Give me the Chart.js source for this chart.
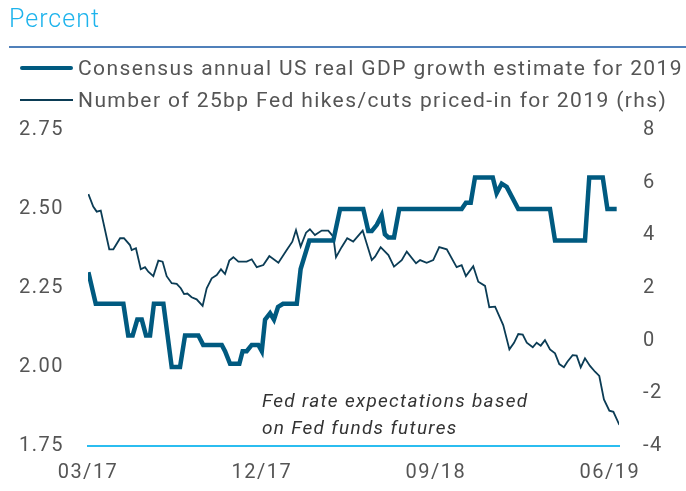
<!DOCTYPE html>
<html>
<head>
<meta charset="utf-8">
<script src="https://cdn.jsdelivr.net/npm/chart.js@4.4.1/dist/chart.umd.min.js"></script>
<style>
  body { margin: 0; background: #fff; }
  #wrap { position: relative; width: 686px; height: 491px; font-family: Roboto, "Open Sans", sans-serif; }
  canvas { position: absolute; left: 0; top: 0; }
  .txt { position: absolute; white-space: nowrap; }
  #unit { left: 9px; top: 4px; font-size: 25px; letter-spacing: 1px; color: #1db3ec; font-weight: 300; line-height: 30px; }
  #rule { position: absolute; left: 9px; top: 46px; width: 677px; height: 2px; background: #5080ba; }
  .leg { left: 78px; font-size: 21px; letter-spacing: 1.4px; color: #555; line-height: 24px; }
  .legline { position: absolute; left: 20px; width: 53px; }
  #note { left: 262px; top: 387px; font-size: 19px; letter-spacing: 1.3px; font-style: italic; color: #333; line-height: 27px; }
</style>
</head>
<body>
<div id="wrap">
  <canvas id="myChart" width="686" height="491"></canvas>
  <div class="txt" id="unit">Percent</div>
  <div id="rule"></div>
  <div class="legline" style="top:66px;height:4px;background:#005a80;border-radius:2px"></div>
  <div class="txt leg" id="leg1" style="top:56px"></div>
  <div class="legline" style="top:99px;height:2px;background:#0b3c55"></div>
  <div class="txt leg" id="leg2" style="top:88px"></div>
  <div class="txt" id="note">Fed rate expectations based<br>on Fed funds futures</div>
</div>
<script>
// months since March 2017
var gdpMonths = [0.02, 0.40, 1.83, 2.08, 2.31, 2.55, 2.78, 3.00, 3.21, 3.41, 3.90, 4.33, 4.76, 5.02, 5.71, 5.96,
    6.92, 7.09, 7.35, 7.83, 8.00, 8.21, 8.47, 8.81, 8.99, 9.16, 9.42, 9.62, 9.83, 10.09, 10.80, 11.00, 11.45,
    12.69, 13.04, 14.24, 14.50, 14.68, 14.94, 15.19, 15.36, 15.54, 15.83, 16.10, 19.33, 19.55, 19.80, 20.02,
    20.94, 21.14, 21.40, 21.66, 22.26, 23.90, 24.16, 25.71, 25.93, 26.63, 26.87, 27.35];
var gdpValues = [2.30, 2.20, 2.20, 2.10, 2.10, 2.15, 2.15, 2.10, 2.10, 2.20, 2.20, 2.00, 2.00, 2.10, 2.10, 2.07,
    2.07, 2.05, 2.01, 2.01, 2.05, 2.05, 2.07, 2.07, 2.05, 2.15, 2.17, 2.15, 2.19, 2.20, 2.20, 2.31, 2.40,
    2.40, 2.50, 2.50, 2.43, 2.43, 2.45, 2.48, 2.42, 2.41, 2.41, 2.50, 2.50, 2.52, 2.52, 2.60,
    2.60, 2.55, 2.58, 2.57, 2.50, 2.50, 2.40, 2.40, 2.60, 2.60, 2.50, 2.50];

var fedMonths = [0.02, 0.27, 0.45, 0.66, 1.10, 1.31, 1.66, 1.86, 2.17, 2.26, 2.48, 2.73, 2.95, 3.12, 3.38, 3.64,
    3.86, 4.07, 4.33, 4.59, 4.80, 4.97, 5.14, 5.36, 5.62, 5.93, 6.14, 6.40, 6.66, 6.88, 7.09, 7.31, 7.52, 7.78,
    8.21, 8.47, 8.73, 9.07, 9.38, 9.85, 10.28, 10.57, 10.76, 11.00, 11.28, 11.48, 11.74, 12.09, 12.43, 12.69,
    12.83, 13.12, 13.41, 13.72, 14.21, 14.68, 14.85, 15.14, 15.54, 15.83, 16.23, 16.49, 16.97, 17.18, 17.52,
    17.86, 18.17, 18.56, 19.07, 19.33, 19.55, 19.93, 20.19, 20.54, 20.76, 21.06, 21.48, 21.80, 22.04, 22.26,
    22.49, 22.70, 23.01, 23.21, 23.42, 23.64, 23.90, 24.16, 24.38, 24.62, 24.80, 25.07, 25.28, 25.49, 25.71,
    25.97, 26.23, 26.45, 26.69, 26.97, 27.18, 27.49];
var fedValues = [5.57, 5.09, 4.90, 4.94, 3.47, 3.47, 3.89, 3.89, 3.63, 3.44, 3.51, 2.71, 2.79, 2.62, 2.45, 3.04,
    3.00, 2.45, 2.18, 2.16, 1.99, 1.77, 1.79, 1.65, 1.57, 1.32, 1.99, 2.37, 2.49, 2.71, 2.53, 3.04, 3.17, 3.00,
    3.00, 3.09, 2.79, 2.87, 3.21, 2.96, 3.44, 3.76, 4.20, 3.57, 4.10, 4.23, 4.01, 4.18, 4.18, 3.95,
    3.17, 3.55, 3.89, 3.76, 4.18, 3.06, 3.19, 3.55, 3.25, 2.81, 3.06, 3.38, 2.94, 3.06, 2.96,
    3.06, 3.55, 3.47, 2.79, 2.87, 2.45, 2.83, 2.24, 2.08, 1.27, 1.29, 0.59, -0.33, -0.08, 0.25,
    0.23, -0.08, -0.25, -0.08, -0.19, 0.02, -0.33, -0.48, -0.89, -1.01, -0.80, -0.55, -0.57, -1.01, -0.67,
    -0.96, -1.18, -1.34, -2.23, -2.66, -2.70, -3.20];

var xTickPos = [0, 9, 18, 27];
var xTickLabels = ['03/17', '12/17', '09/18', '06/19'];
var seriesNames = ['Consensus annual US real GDP growth estimate for 2019',
    'Number of 25bp Fed hikes/cuts priced-in for 2019 (rhs)'];

window.onload = main;

function main() {
    document.getElementById('leg1').textContent = seriesNames[0];
    document.getElementById('leg2').textContent = seriesNames[1];

    var gdp = gdpMonths.map(function (m, i) { return { x: m, y: gdpValues[i] }; });
    var fed = fedMonths.map(function (m, i) { return { x: m, y: fedValues[i] }; });

    // the reference type is wide and light, so space the canvas labels out a little
    var spacing = {
        id: 'spacing',
        beforeDraw: function (chart) { chart.ctx.letterSpacing = '1.5px'; }
    };

    var tickFont = { family: 'Roboto', size: 20 };
    var ctx = document.getElementById('myChart').getContext('2d');
    new Chart(ctx, {
        type: 'line',
        data: {
            datasets: [{
                label: seriesNames[0],
                data: gdp,
                borderColor: '#005a80',
                borderWidth: 4.5,
                pointRadius: 0,
                tension: 0,
                yAxisID: 'y'
            }, {
                label: seriesNames[1],
                data: fed,
                borderColor: '#0b3c55',
                borderWidth: 1.8,
                pointRadius: 0,
                tension: 0,
                yAxisID: 'y1'
            }]
        },
        plugins: [spacing],
        options: {
            responsive: false,
            animation: false,
            layout: { padding: { top: 130, left: 0, right: 0, bottom: 0 } },
            plugins: { legend: { display: false }, tooltip: { enabled: false } },
            scales: {
                x: {
                    type: 'linear',
                    min: 0,
                    max: 27.47,
                    afterBuildTicks: function (scale) {
                        scale.ticks = xTickPos.map(function (v) { return { value: v }; });
                    },
                    afterFit: function (scale) { scale.height = 45; },
                    grid: { display: false, drawTicks: false },
                    border: { display: true, color: '#2bbdf0', width: 2 },
                    ticks: {
                        maxRotation: 0,
                        autoSkip: false,
                        padding: 15,
                        color: '#555',
                        font: tickFont,
                        callback: function (v) {
                            var i = xTickPos.indexOf(v);
                            return i >= 0 ? xTickLabels[i] : '';
                        }
                    }
                },
                y: {
                    position: 'left',
                    min: 1.75,
                    max: 2.75,
                    afterFit: function (scale) { scale.width = 88; },
                    grid: { display: false, drawTicks: false },
                    border: { display: false },
                    ticks: {
                        stepSize: 0.25,
                        padding: 24,
                        color: '#555',
                        font: tickFont,
                        callback: function (v) { return v.toFixed(2); }
                    }
                },
                y1: {
                    position: 'right',
                    min: -4,
                    max: 8,
                    afterFit: function (scale) { scale.width = 67; },
                    grid: { display: false, drawTicks: false },
                    border: { display: false },
                    ticks: {
                        stepSize: 2,
                        padding: 24,
                        color: '#555',
                        font: tickFont
                    }
                }
            }
        }
    });
}
</script>
</body>
</html>
